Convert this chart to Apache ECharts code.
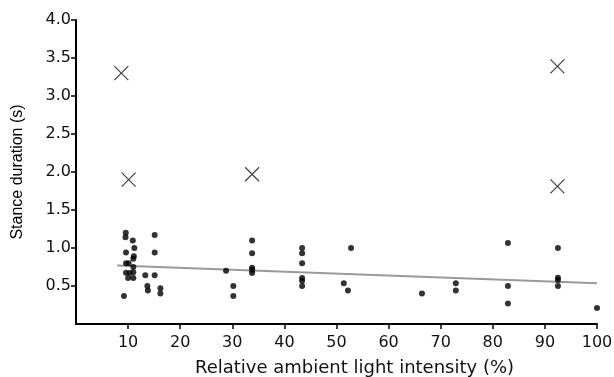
<!DOCTYPE html>
<html>
<head>
<meta charset="utf-8">
<script src="https://cdn.jsdelivr.net/npm/echarts@6/dist/echarts.min.js"></script>
<style>
  html, body { margin: 0; padding: 0; background: #fff; }
  #chart { width: 614px; height: 377px; }
</style>
</head>
<body>
<div id="chart"></div>
<script>
// light intensity (%) and stance duration (s), normal trials
const dotX = [9.55, 9.5, 10.9, 11.2, 9.6, 11.1, 11.0, 9.6, 10.1, 11.0, 9.6, 11.0, 10.3, 10.0, 11.0, 9.2,
  13.3, 13.7, 13.8, 15.1, 15.1, 15.1, 16.2, 16.2,
  28.8, 30.2, 30.2, 33.8, 33.8, 33.8, 33.8, 33.8,
  43.4, 43.4, 43.4, 43.4, 43.4, 43.4, 51.4, 52.2, 52.8, 66.4,
  72.9, 72.9, 82.9, 82.9, 82.9, 92.5, 92.5, 92.5, 92.5, 100];
const dotY = [1.20, 1.14, 1.10, 1.00, 0.94, 0.89, 0.86, 0.80, 0.80, 0.75, 0.675, 0.68, 0.67, 0.605, 0.605, 0.37,
  0.64, 0.50, 0.44, 1.17, 0.94, 0.64, 0.47, 0.40,
  0.70, 0.50, 0.37, 1.10, 0.93, 0.74, 0.71, 0.67,
  1.00, 0.93, 0.80, 0.605, 0.57, 0.50, 0.535, 0.44, 1.00, 0.40,
  0.535, 0.44, 1.065, 0.50, 0.27, 1.00, 0.61, 0.58, 0.50, 0.21];

// outliers (crosses)
const crossX = [8.7, 10.1, 33.8, 92.4, 92.4];
const crossY = [3.30, 1.90, 1.97, 3.39, 1.81];

// regression line end points
const fitX = [7.9, 100];
const fitY = [0.77, 0.535];

const xTicks = [10, 20, 30, 40, 50, 60, 70, 80, 90, 100];
const yTicks = [0.5, 1.0, 1.5, 2.0, 2.5, 3.0, 3.5, 4.0];

const wideFont = 'DejaVu Sans, Verdana, sans-serif';
const font = 'Liberation Sans, Arial, sans-serif';
const zip = (a, b) => a.map((v, i) => [v, b[i]]);

const chart = echarts.init(document.getElementById('chart'));

chart.setOption({
  animation: false,
  grid: { left: 76, right: 17, top: 20, bottom: 53, containLabel: false, outerBoundsMode: 'none' },
  xAxis: {
    type: 'value',
    min: 0,
    max: 100,
    interval: 10,
    name: 'Relative ambient light intensity (%)',
    nameLocation: 'middle',
    nameGap: 35,
    nameTextStyle: { fontFamily: wideFont, fontSize: 18, color: '#111', padding: [0, 0, 0, 36] },
    axisLine: { lineStyle: { color: '#000', width: 2 } },
    axisTick: { length: 5, customValues: xTicks, lineStyle: { color: '#000', width: 1.5 } },
    axisLabel: {
      fontFamily: wideFont, fontSize: 16, color: '#111', margin: 11,
      customValues: xTicks
    },
    splitLine: { show: false }
  },
  yAxis: {
    type: 'value',
    min: 0,
    max: 4,
    interval: 0.5,
    name: 'Stance duration (s)',
    nameLocation: 'middle',
    nameGap: 50,
    nameTextStyle: { fontFamily: font, fontSize: 16, color: '#000' },
    axisLine: { show: true, lineStyle: { color: '#000', width: 2 } },
    axisTick: { show: true, length: 5, customValues: yTicks, lineStyle: { color: '#000', width: 1.5 } },
    axisLabel: {
      fontFamily: wideFont, fontSize: 16, color: '#111', margin: 5,
      customValues: yTicks,
      formatter: v => v.toFixed(1)
    },
    splitLine: { show: false }
  },
  series: [
    {
      type: 'line',
      data: zip(fitX, fitY),
      symbol: 'none',
      lineStyle: { color: '#999', width: 2 },
      z: 1
    },
    {
      type: 'scatter',
      data: zip(dotX, dotY),
      symbol: 'circle',
      symbolSize: 6,
      itemStyle: { color: '#000' },
      z: 3
    },
    {
      type: 'scatter',
      data: zip(crossX, crossY),
      symbol: 'path://M0,0L10,10M10,0L0,10',
      symbolSize: 14,
      itemStyle: { color: 'none', borderColor: '#111', borderWidth: 1.2 },
      z: 3
    }
  ]
});

window.addEventListener('resize', () => chart.resize());
</script>
</body>
</html>
